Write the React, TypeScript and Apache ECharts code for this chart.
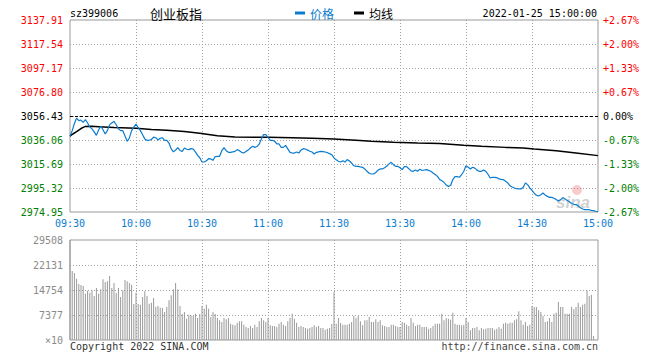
import React, { useEffect, useRef } from "react";
import * as echarts from "echarts";

const TIME_LABELS = ["09:30", "10:00", "10:30", "11:00", "11:30", "13:30", "14:00", "14:30", "15:00"];
const PRICE_LABELS = ["2974.95", "2995.32", "3015.69", "3036.06", "3056.43", "3076.80", "3097.17", "3117.54", "3137.91"];
const PCT_LABELS = ["-2.67%", "-2.00%", "-1.33%", "-0.67%", "0.00%", "+0.67%", "+1.33%", "+2.00%", "+2.67%"];
const VOL_LABELS = ["×10", "7377", "14754", "22131", "29508"];

const PREV_CLOSE = 3056.43;
const PRICE_MIN = 2974.95;
const PRICE_MAX = 3137.91;
const VOL_MAX = 29508;
const VOL_STEP = 7377;

// one value per minute, 09:30 .. 15:00 (241 points)
const PRICE = [
  3039.2, 3044.0, 3050.0, 3054.7, 3052.5, 3053.0, 3051.0, 3053.3, 3050.5, 3047.0,
  3045.5, 3043.0, 3040.0, 3044.5, 3047.7, 3044.8, 3041.2, 3044.0, 3049.1, 3050.5,
  3051.9, 3049.0, 3045.5, 3044.0, 3044.0, 3039.5, 3034.9, 3037.8, 3044.0, 3047.0,
  3049.6, 3046.5, 3044.0, 3040.5, 3037.0, 3035.8, 3035.8, 3036.5, 3038.5, 3038.0,
  3036.0, 3037.5, 3038.0, 3035.8, 3035.8, 3033.5, 3028.5, 3026.0, 3027.5, 3029.5,
  3027.2, 3026.4, 3029.3, 3028.2, 3027.9, 3028.7, 3028.3, 3026.0, 3023.0, 3021.0,
  3017.4, 3017.4, 3018.5, 3020.2, 3020.0, 3018.8, 3022.0, 3022.2, 3022.2, 3027.0,
  3029.5, 3027.0, 3025.6, 3025.6, 3026.0, 3026.4, 3027.9, 3027.0, 3025.6, 3025.0,
  3026.4, 3027.5, 3029.3, 3030.7, 3029.8, 3030.5, 3032.5, 3037.0, 3040.6, 3040.6,
  3038.3, 3035.8, 3035.8, 3035.0, 3032.7, 3032.7, 3029.8, 3029.8, 3031.5, 3028.5,
  3025.5, 3025.0, 3025.0, 3025.9, 3025.0, 3027.5, 3028.7, 3028.4, 3027.5, 3026.5,
  3025.9, 3024.2, 3025.6, 3026.0, 3026.4, 3026.2, 3025.9, 3025.3, 3024.5, 3023.6,
  3020.8, 3019.2, 3018.0, 3017.4, 3018.5, 3017.4, 3019.4, 3018.2, 3016.5, 3014.2,
  3013.7, 3013.7, 3013.2, 3012.9, 3011.5, 3009.5, 3007.8, 3007.2, 3007.2, 3008.5,
  3010.5, 3011.5, 3011.5, 3012.5, 3014.0, 3015.8, 3017.1, 3015.1, 3013.7, 3013.7,
  3012.5, 3010.9, 3013.5, 3013.5, 3011.7, 3009.8, 3009.5, 3010.6, 3009.5, 3011.3,
  3010.2, 3010.6, 3010.9, 3010.3, 3009.5, 3008.1, 3006.8, 3005.2, 3002.6, 3001.4,
  3000.2, 2997.8, 2996.7, 2997.4, 3002.5, 3005.0, 3005.0, 3004.4, 3006.6, 3009.5,
  3014.3, 3012.9, 3011.5, 3012.9, 3012.2, 3010.5, 3009.5, 3009.5, 3010.5, 3009.5,
  3007.0, 3003.8, 3004.4, 3004.4, 3004.2, 3003.0, 3002.6, 3002.4, 3001.0, 2999.6,
  2997.2, 2996.2, 2995.3, 2994.8, 2994.5, 2994.5, 2996.0, 2999.6, 2998.2, 2995.5,
  2993.4, 2991.0, 2989.2, 2988.5, 2989.6, 2991.1, 2989.3, 2988.2, 2987.4, 2987.4,
  2986.6, 2985.5, 2984.2, 2985.4, 2987.2, 2986.0, 2984.8, 2983.6, 2982.2, 2981.5,
  2981.2, 2980.2, 2978.6, 2977.5, 2977.0, 2976.9, 2976.9, 2976.3, 2976.1, 2975.6,
  2975.3,
];

// average price line, read at [minute, price]
const AVG = [
  [0, 3039.4], [1, 3040.8], [2, 3042.0], [3, 3043.1], [4, 3044.5], [5, 3045.8], [6, 3046.8],
  [7, 3047.6], [10, 3047.7], [13, 3047.4], [20, 3046.6], [30, 3046.0], [37, 3045.0],
  [44, 3044.4], [52, 3043.3], [59, 3041.7], [67, 3039.6], [75, 3038.6], [90, 3038.3],
  [101, 3038.0], [110, 3037.6], [120, 3036.9], [130, 3035.8], [137, 3034.9], [147, 3034.1],
  [158, 3033.5], [168, 3033.0], [179, 3031.5], [187, 3030.7], [198, 3029.8], [206, 3029.3],
  [211, 3028.4], [221, 3027.0], [230, 3025.0], [240, 3022.8],
];

// volume per minute (×10)
const VOLUME = [
  29508,
  20361, 19770, 18098, 16524, 16230, 15934, 13672, 14557, 13967, 14655,
  12983, 15344, 13672, 14950, 17902, 17115, 17312, 18885, 15344, 16820,
  13869, 15344, 12688, 14655, 17705, 17312, 16820, 16328, 10623, 13967,
  10623, 10426, 12688, 14360, 12983, 10721, 11017, 12393, 9836, 10033,
  9541, 9443, 8262, 9738, 11705, 13180, 14950, 16820, 14950, 10033,
  7672, 8262, 6295, 7476, 7279, 7082, 7771, 6492, 7672, 10033,
  9246, 10426, 9246, 6787, 8262, 7672, 6492, 5804, 5311, 6492,
  6098, 6492, 4820, 4525, 4328, 5115, 5508, 5508, 4525, 3836,
  3541, 4131, 3541, 4525, 3836, 5508, 6492, 5804, 5311, 6492,
  4328, 4131, 4131, 3836, 4820, 5311, 4525, 4131, 5508, 6492,
  7771, 6295, 5115, 3836, 4131, 3836, 3541, 3344, 3541, 3836,
  4328, 3836, 4131, 3541, 3541, 3049, 3344, 3541, 4721,
  14164, 4820, 6492, 5016, 4525, 4525, 4525, 4820, 5311, 7082,
  6492, 7082, 5508, 4328, 5804, 5804, 6787, 5311, 5311, 6098,
  5311, 5804, 4328, 4131, 3836, 3836, 4525, 4525, 4131, 3836,
  3836, 5311, 5115, 4525, 4131, 6492, 5115, 4131, 4525, 4525,
  3836, 3836, 3836, 3344, 3541, 4131, 4820, 4820, 4820, 7771,
  5804, 6492, 6295, 6000, 8066, 4820, 4525, 4525, 4328, 4525,
  6492, 5311, 2853, 3541, 3541, 3836, 2853, 3541, 3148, 3344,
  3541, 3541, 3541, 3049, 3344, 3836, 3344, 4820, 5115, 4820,
  5115, 5115, 5804, 6098, 8459, 5804, 4525, 5311, 4131, 4525,
  10033, 9738, 9738, 8755, 8262, 7082, 5311, 5508, 6492, 5311,
  7771, 8066, 11213, 9738, 9738, 7771, 7771, 7771, 9738, 9050,
  9738, 11017, 9738, 10426, 10721, 14655, 12983, 13377, 1180,
  0, 0,
];

const MONO = "DejaVu Sans Mono";
const CJK = "Noto Sans CJK SC";
const BLUE = "#0a7ccf";
const RED = "#ff0000";
const GREEN = "#008000";
const GRID_LINE = { color: "#a0a0a0", type: [1, 2] as number[], width: 1 };

export default function App() {
  const ref = useRef<HTMLDivElement>(null);

  useEffect(() => {
    const chart = echarts.init(ref.current!, null, { renderer: "svg" });
    const sideColor = (v: any) => {
      const n = Number(v);
      return n > 0 ? RED : n < 0 ? GREEN : "#000";
    };
    const option: any = {
      animation: false,
      backgroundColor: "#fff",
      title: [
        { text: "sz399006", left: 70, top: 8, padding: 0, textStyle: { fontFamily: MONO, fontSize: 10, fontWeight: "normal", color: "#000", lineHeight: 10 } },
        { text: "创业板指", left: 150, top: 6, padding: 0, textStyle: { fontFamily: CJK, fontSize: 13, fontWeight: "normal", color: "#000", lineHeight: 14 } },
        { text: "2022-01-25 15:00:00", right: 63, top: 8, padding: 0, textStyle: { fontFamily: MONO, fontSize: 10, fontWeight: "normal", color: "#000", lineHeight: 10 } },
        { text: "Copyright 2022 SINA.COM", left: 70, top: 341, padding: 0, textStyle: { fontFamily: MONO, fontSize: 10, fontWeight: "normal", color: "#333", lineHeight: 10 } },
        { text: "http://finance.sina.com.cn", right: 62, top: 341, padding: 0, textStyle: { fontFamily: MONO, fontSize: 10, fontWeight: "normal", color: "#444", lineHeight: 10 } },
      ],
      legend: {
        left: 295,
        top: 7,
        padding: 0,
        icon: "rect",
        itemWidth: 10,
        itemHeight: 3,
        itemGap: 20,
        selectedMode: false,
        textStyle: { fontFamily: CJK, fontSize: 12 },
        data: [
          { name: "价格", textStyle: { color: BLUE } },
          { name: "均线", textStyle: { color: "#000" } },
        ],
      },
      grid: [
        { left: 70, top: 20, width: 528, height: 192, show: true, borderColor: "#999", borderWidth: 1, backgroundColor: "transparent" },
        { left: 70, top: 240, width: 528, height: 100, show: true, borderColor: "#999", borderWidth: 1, backgroundColor: "transparent" },
      ],
      xAxis: [
        {
          gridIndex: 0, type: "value", min: 0, max: 240, interval: 30,
          axisLine: { show: false }, axisTick: { show: false },
          axisLabel: { formatter: (v: number) => TIME_LABELS[Math.round(v / 30)], color: BLUE, fontFamily: MONO, fontSize: 10, margin: 6 },
          splitLine: { show: true, showMinLine: false, showMaxLine: false, lineStyle: GRID_LINE },
        },
        {
          gridIndex: 1, type: "value", min: 0, max: 240, interval: 30,
          axisLine: { show: false }, axisTick: { show: false }, axisLabel: { show: false },
          splitLine: { show: true, showMinLine: false, showMaxLine: false, lineStyle: GRID_LINE },
        },
      ],
      yAxis: [
        { gridIndex: 0, type: "value", min: PRICE_MIN, max: PRICE_MAX, show: false },
        {
          gridIndex: 0, type: "value", position: "left", min: -4, max: 4, interval: 1,
          axisLine: { show: false }, axisTick: { show: false },
          axisLabel: { formatter: (v: number) => PRICE_LABELS[Math.round(v) + 4], color: sideColor, fontFamily: MONO, fontSize: 10, margin: 7 },
          splitLine: { show: true, showMinLine: false, showMaxLine: false, lineStyle: GRID_LINE },
        },
        {
          gridIndex: 0, type: "value", position: "right", min: -4, max: 4, interval: 1,
          axisLine: { show: false }, axisTick: { show: false },
          axisLabel: { formatter: (v: number) => PCT_LABELS[Math.round(v) + 4], color: sideColor, fontFamily: MONO, fontSize: 10, margin: 5 },
          splitLine: { show: false },
        },
        {
          gridIndex: 1, type: "value", position: "left", min: 0, max: VOL_MAX, interval: VOL_STEP,
          axisLine: { show: false }, axisTick: { show: false },
          axisLabel: { formatter: (v: number) => VOL_LABELS[Math.round(v / VOL_STEP)], color: "#8a8a8a", fontFamily: MONO, fontSize: 10, margin: 7 },
          splitLine: { show: true, showMinLine: false, showMaxLine: false, lineStyle: GRID_LINE },
        },
      ],
      series: [
        {
          name: "价格", type: "line", xAxisIndex: 0, yAxisIndex: 0, color: BLUE,
          data: PRICE.map((p, i) => [i, p]),
          showSymbol: false, symbol: "none",
          lineStyle: { color: BLUE, width: 1.2 },
          z: 4,
          markLine: {
            silent: true, symbol: "none", label: { show: false },
            lineStyle: { color: "#000", type: [3, 2], width: 1 },
            data: [{ yAxis: PREV_CLOSE }],
          },
        },
        {
          name: "均线", type: "line", xAxisIndex: 0, yAxisIndex: 0, color: "#000",
          data: AVG,
          showSymbol: false, symbol: "none",
          lineStyle: { color: "#000", width: 1.5 },
          z: 3,
        },
        {
          name: "成交量", type: "bar", xAxisIndex: 1, yAxisIndex: 3,
          data: VOLUME.map((v, i) => [i, v]),
          barWidth: 1,
          itemStyle: { color: "#999" },
        },
      ],
      graphic: [
        { type: "circle", shape: { cx: 577, cy: 190, r: 5 }, style: { fill: "rgba(235,110,110,0.35)" }, silent: true, z: 1 },
        { type: "text", x: 556, y: 194, style: { text: "sina", font: "italic bold 17px 'Liberation Sans'", fill: "rgba(150,150,150,0.45)" }, silent: true, z: 1 },
      ],
    };
    chart.setOption(option);
    return () => chart.dispose();
  }, []);

  return (
    <div
      ref={ref}
      style={{ position: "absolute", left: 0, top: 0, width: 660, height: 360, background: "#fff" }}
    />
  );
}
